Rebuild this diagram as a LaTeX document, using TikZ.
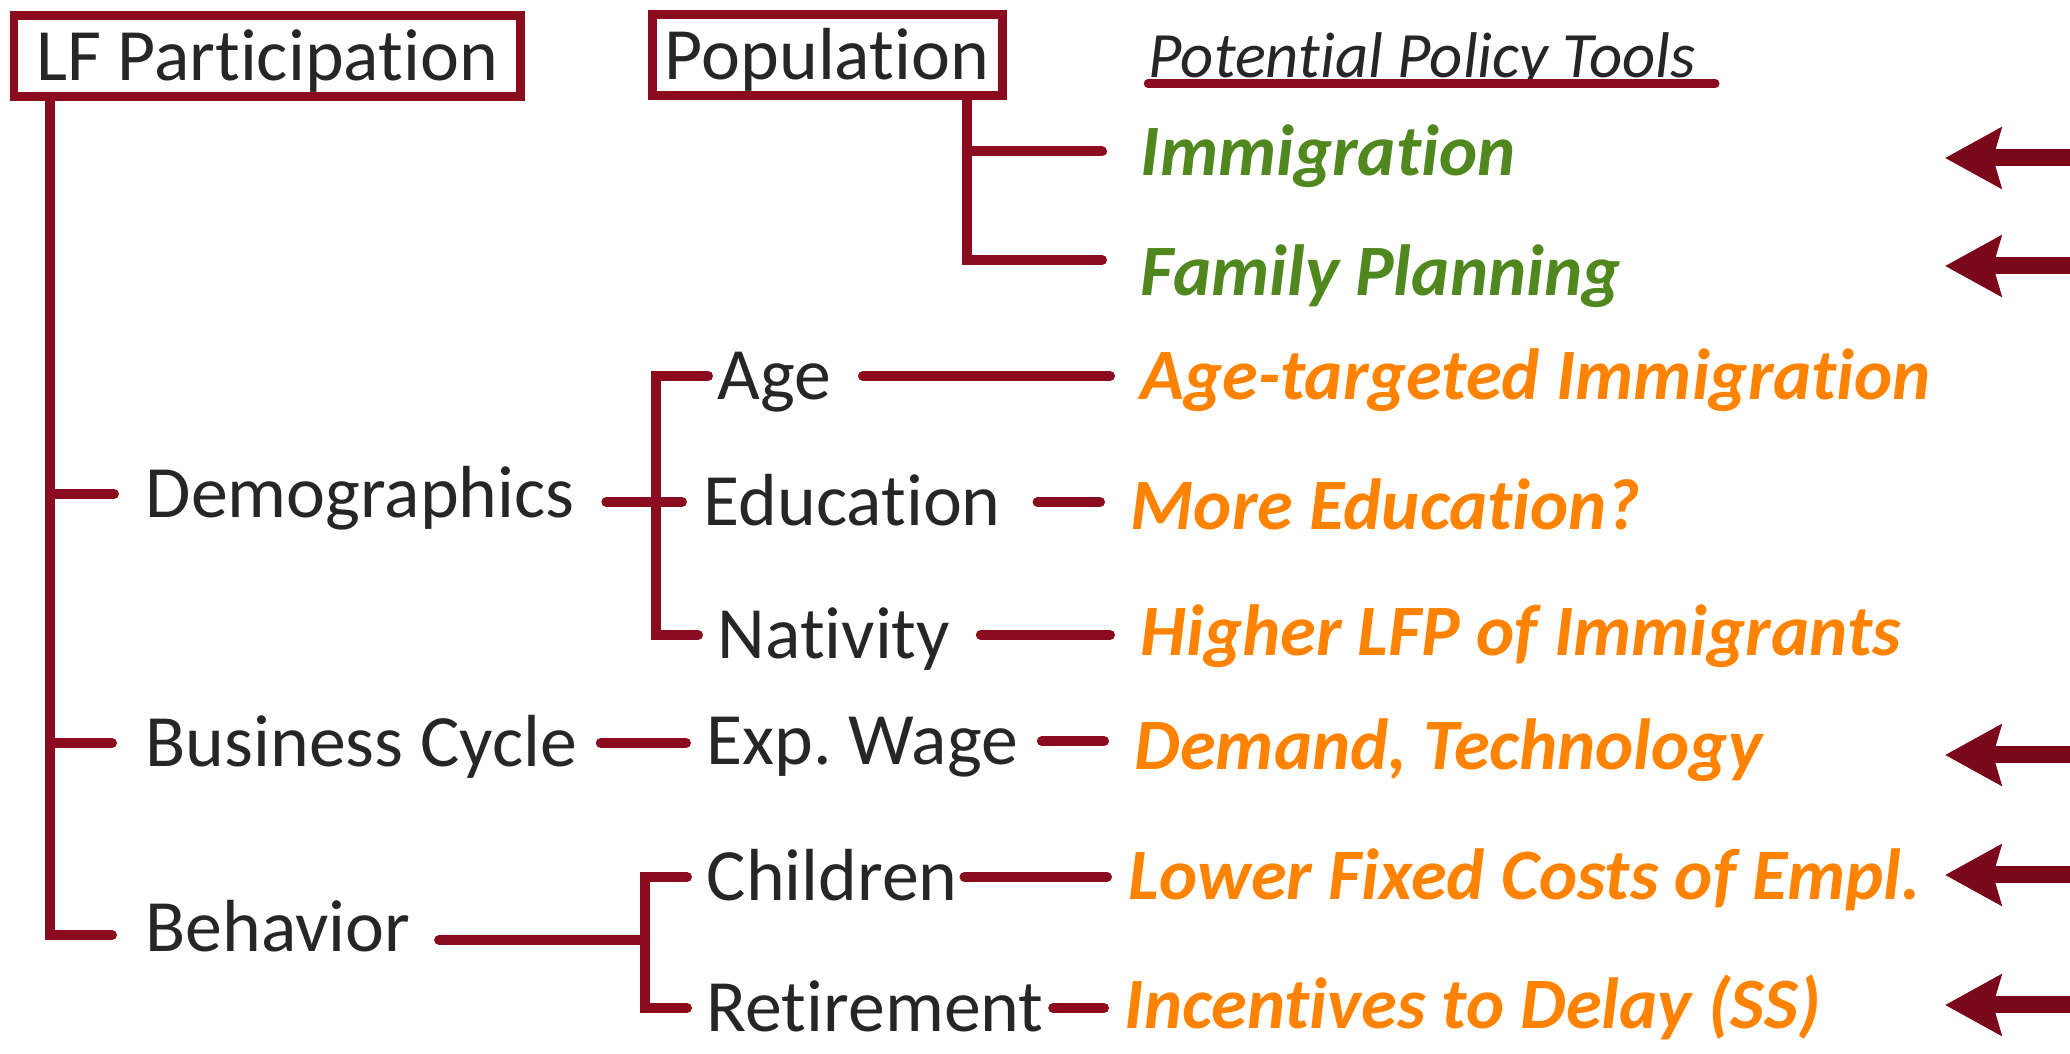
\documentclass[tikz,border=0pt]{standalone}
\usepackage{fontspec}
\setmainfont{Carlito}[Ligatures=NoCommon]
\usetikzlibrary{positioning}
\usetikzlibrary{arrows.meta}
\definecolor{lfred}{RGB}{139,12,30}
\definecolor{arrred}{RGB}{122,8,26}
\definecolor{txtgray}{RGB}{38,38,38}
\definecolor{polgreen}{RGB}{80,135,30}
\definecolor{polorange}{RGB}{255,130,0}
\tikzset{
    boxnode/.style = {rectangle, draw=lfred, line width=0.09cm, inner sep=0, minimum height=0.81cm, text=txtgray, font=\fontsize{21}{25}\selectfont, text height=5.5mm, text depth=0.7mm},
    txtnode/.style = {anchor=west, inner sep=0, text=txtgray, font=\fontsize{21}{25}\selectfont\frenchspacing, text height=5.5mm, text depth=0.7mm},
    polg/.style = {txtnode, text=polgreen, font=\fontsize{20.6}{25}\selectfont\bfseries\itshape},
    polo/.style = {txtnode, text=polorange, font=\fontsize{20.6}{25}\selectfont\bfseries\itshape},
    edgem/.style = {-, line width=0.1cm, lfred, line cap=round},
    arrowm/.style = {-{Stealth[length=0.56cm,width=0.6cm,inset=0.08cm]}, line width=0.17cm, arrred}
}

\begin{document}
\begin{tikzpicture}
\useasboundingbox (0,0) rectangle (20.70,10.54);

\node[boxnode, minimum width=5.06cm] at ( 2.67, 9.975) (lf) {LF Participation};
\node[boxnode, minimum width=3.50cm] at ( 8.27, 9.985) (pop) {Population};
\node[txtnode, font=\fontsize{18.4}{22}\selectfont\itshape] at (11.48, 10.00) (pot) {Potential Policy Tools};

\node[txtnode] at ( 1.45, 5.60) (demo) {Demographics};
\node[txtnode] at ( 1.45, 3.11) (bcyc) {Business Cycle};
\node[txtnode] at ( 1.45, 1.26) (behav) {Behavior};

\node[txtnode] at ( 7.17, 6.78) (age) {Age};
\node[txtnode] at ( 7.03, 5.52) (educ) {Education};
\node[txtnode] at ( 7.17, 4.19) (nativ) {Nativity};
\node[txtnode] at ( 7.06, 3.13) (expw) {Exp. Wage};
\node[txtnode] at ( 7.06, 1.77) (child) {Children};
\node[txtnode] at ( 7.06, 0.46) (retir) {Retirement};

\node[polg] at (11.40, 9.025) (immi) {Immigration};
\node[polg] at (11.40, 7.82) (famp) {Family Planning};
\node[polo] at (11.40, 6.78) (aget) {Age-targeted Immigration};
\node[polo] at (11.30, 5.48) (moree) {More Education?};
\node[polo] at (11.40, 4.22) (highr) {Higher LFP of Immigrants};
\node[polo] at (11.34, 3.08) (dmnd) {Demand, Technology};
\node[polo] at (11.28, 1.78) (lower) {Lower Fixed Costs of Empl.};
\node[polo] at (11.24, 0.49) (incen) {Incentives to Delay (SS)};

\coordinate (trunk) at (0.50, 0);
\coordinate (ptrunk) at (9.67, 0);
\coordinate (dbrk) at (6.56, 5.52);
\coordinate (bbrk) at (6.45, 1.14);

% underline
\draw[edgem, line width=0.085cm] ([yshift=0.2mm]pot.south west) -- ([xshift=1.9mm,yshift=0.2mm]pot.south east);

% LF Participation tree
\draw[edgem] (lf.south -| trunk) |- ([xshift=-3.3mm,yshift=-0.7mm]behav.west);
\draw[edgem] (trunk |- demo.west) -- ([xshift=-3.1mm]demo.west);
\draw[edgem] (trunk |- bcyc.west) -- ([xshift=-3.3mm]bcyc.west);

% Population tree
\draw[edgem] (pop.south -| ptrunk) |- ([xshift=-3.8mm,yshift=1.2mm]famp.west);
\draw[edgem] (ptrunk |- immi.west) -- ([xshift=-3.8mm]immi.west);

% Demographics bracket
\draw[edgem] ([xshift=-0.9mm]age.west) -- (dbrk |- age.west) -- (dbrk |- nativ.west) -- ([xshift=-1.9mm]nativ.west);
\draw[edgem, shorten <=3.1mm, shorten >=2.1mm] (demo.east |- educ.west) -- (educ.west);

% Behavior bracket
\draw[edgem] ([xshift=-1.9mm]child.west) -- (bbrk |- child.west) -- (bbrk |- retir.west) -- ([xshift=-1.9mm]retir.west);
\draw[edgem, shorten <=2.8mm] ([yshift=-1.2mm]behav.east) -- (bbrk);

\draw[edgem, shorten <=2.3mm, shorten >=2.0mm] (bcyc.east) -- (bcyc.east -| expw.west);

% to policy tools
\draw[edgem, shorten <=3.1mm, shorten >=3.0mm] (age.east) -- (age.east -| aget.west);
\draw[edgem, shorten <=3.6mm, shorten >=3.0mm] (educ.east) -- (educ.east -| moree.west);
\draw[edgem, shorten <=3.0mm, shorten >=3.0mm] (nativ.east) -- (nativ.east -| highr.west);
\draw[edgem, shorten <=2.3mm, shorten >=3.0mm] (expw.east) -- (expw.east -| dmnd.west);
\draw[edgem, shorten <=0.6mm, shorten >=2.1mm] (child.east) -- (child.east -| lower.west);
\draw[edgem, shorten <=0.9mm, shorten >=2.0mm] (retir.east) -- (retir.east -| incen.west);

% arrows from the right
\coordinate (immitail) at (20.90, 8.96);
\coordinate (immitip) at (19.45, 8.96);
\coordinate (famptail) at (20.90, 7.88);
\coordinate (famptip) at (19.45, 7.88);
\coordinate (dmndtail) at (20.90, 2.99);
\coordinate (dmndtip) at (19.45, 2.99);
\coordinate (lowertail) at (20.90, 1.79);
\coordinate (lowertip) at (19.45, 1.79);
\coordinate (incentail) at (20.90, 0.49);
\coordinate (incentip) at (19.45, 0.49);
\draw[arrowm] (immitail) -- (immitip);
\draw[arrowm] (famptail) -- (famptip);
\draw[arrowm] (dmndtail) -- (dmndtip);
\draw[arrowm] (lowertail) -- (lowertip);
\draw[arrowm] (incentail) -- (incentip);

\end{tikzpicture}
\end{document}
